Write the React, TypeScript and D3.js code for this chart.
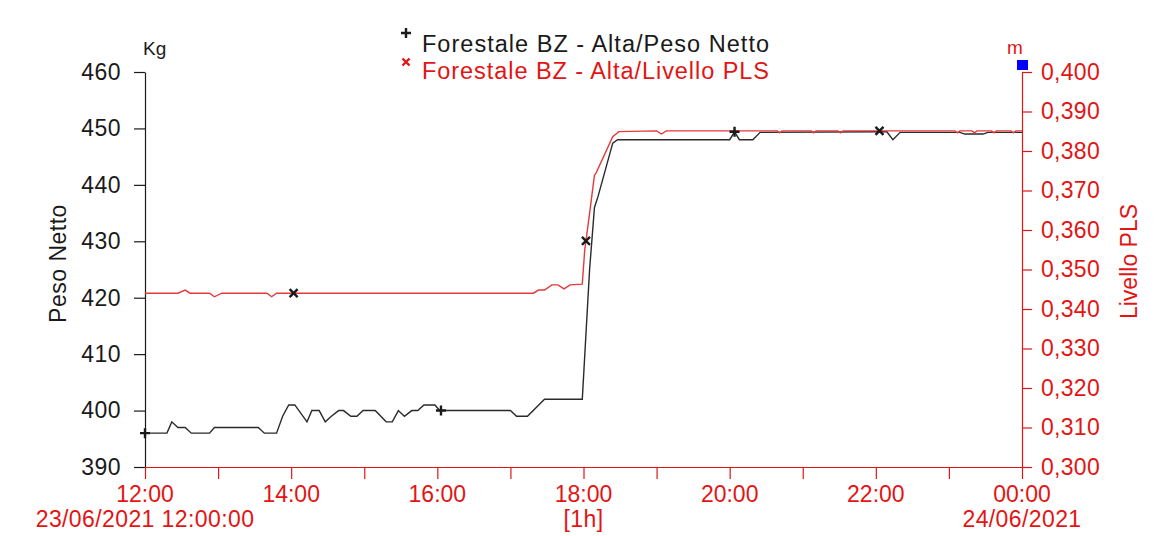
import * as d3 from "d3";
import React, { useEffect, useRef } from "react";

// time axis: 23/06/2021 12:00 -> 24/06/2021 00:00, values keyed by minutes after 12:00
const startTime = new Date(2021, 5, 23, 12, 0, 0);
const endTime = new Date(2021, 5, 24, 0, 0, 0);

// Peso Netto (Kg)
const pesoMinutes = [0, 18, 22, 27, 33, 38, 53, 57, 93, 98, 108, 113, 118, 123, 133, 137, 143, 148, 153, 159, 163, 169, 174, 179, 189, 198, 203, 208, 213, 219, 224, 229, 238, 242, 300, 305, 314, 328, 359, 365, 369, 372, 384, 388, 480, 484, 488, 499, 505, 603, 609, 614, 620, 669, 673, 688, 692, 720];
const pesoValues = [396, 396, 398, 397, 397, 396, 396, 397, 397, 396, 396, 399, 401, 401, 398, 400, 400, 398, 399, 400, 400, 399, 399, 400, 400, 398, 398, 400, 399, 400, 400, 401, 401, 400, 400, 399, 399, 402, 402, 425, 436, 438, 447.4, 448, 448, 449.4, 448, 448, 449.3, 449.4, 449.4, 448, 449.3, 449.3, 449.0, 449.0, 449.3, 449.3];

// Livello PLS (m)
const livelloMinutes = [0, 27, 33, 37, 53, 57, 63, 100, 104, 108, 319, 323, 328, 334, 339, 344, 349, 359, 361, 365, 369, 370, 384, 389, 420, 424, 428, 519, 521, 523, 547, 549, 551, 569, 571, 573, 665, 667, 669, 679, 681, 683, 695, 697, 699, 711, 713, 715, 720];
const livelloValues = [0.344, 0.344, 0.3448, 0.344, 0.344, 0.3431, 0.344, 0.344, 0.3431, 0.344, 0.344, 0.3448, 0.3448, 0.3461, 0.3461, 0.3451, 0.3461, 0.3463, 0.3549, 0.3642, 0.3739, 0.3742, 0.3836, 0.3849, 0.3851, 0.3843, 0.3851, 0.3851, 0.3846, 0.3851, 0.3851, 0.3846, 0.3851, 0.3851, 0.3846, 0.3851, 0.3851, 0.3846, 0.3851, 0.3851, 0.3846, 0.3851, 0.3851, 0.3846, 0.3851, 0.3851, 0.3846, 0.3851, 0.3851];

const pesoMarkerMinutes = [0, 243, 484];
const livelloMarkerMinutes = [122, 362, 603];

const pesoTicks = [390, 400, 410, 420, 430, 440, 450, 460];
const livelloTicks = [0.3, 0.31, 0.32, 0.33, 0.34, 0.35, 0.36, 0.37, 0.38, 0.39, 0.4];
const livelloTickLabels = ["0,300", "0,310", "0,320", "0,330", "0,340", "0,350", "0,360", "0,370", "0,380", "0,390", "0,400"];
const hourLabels = ["12:00", "14:00", "16:00", "18:00", "20:00", "22:00", "00:00"];
const legendLabels = ["Forestale BZ - Alta/Peso Netto", "Forestale BZ - Alta/Livello PLS"];

const RED = "#e31414";
const DARK = "#1a1a1a";
const FONT = "'Liberation Sans', Arial, sans-serif";

export default function App() {
  const svgRef = useRef<SVGSVGElement>(null);
  const boxWidth = 1176;
  const boxHeight = 536;

  useEffect(() => {
    const svg = d3.select(svgRef.current).attr("width", boxWidth).attr("height", boxHeight);
    svg.selectAll("*").remove();

    const margin = { top: 72, right: 154, bottom: 69, left: 145 };
    const width = boxWidth - margin.left - margin.right;
    const height = boxHeight - margin.top - margin.bottom;

    const toDate = (m: number) => new Date(startTime.getTime() + m * 60000);

    const x = d3.scaleTime().domain([startTime, endTime]).range([0, width]);
    const yLeft = d3.scaleLinear().domain([390, 460]).range([height, 0]);
    const yRight = d3.scaleLinear().domain([0.3, 0.4]).range([height, 0]);

    const peso = pesoMinutes.map((m, i) => ({ date: toDate(m), value: pesoValues[i] }));
    const livello = livelloMinutes.map((m, i) => ({ date: toDate(m), value: livelloValues[i] }));

    const g = svg.append("g").attr("transform", `translate(${margin.left},${margin.top})`);

    // left axis (Kg)
    const leftAxis = g.append("g").call(
      d3.axisLeft(yLeft).tickValues(pesoTicks).tickSize(11).tickSizeOuter(0).tickPadding(13).tickFormat((d) => `${d}`)
    );
    leftAxis.select(".domain").attr("stroke", DARK).attr("stroke-width", 1.2);
    leftAxis.selectAll(".tick line").attr("stroke", DARK).attr("stroke-width", 1.2);
    leftAxis.selectAll("text").attr("fill", DARK).attr("font-size", "23px").attr("font-family", FONT).attr("letter-spacing", "0.5px");

    // right axis (m)
    const rightAxis = g.append("g").attr("transform", `translate(${width},0)`).call(
      d3.axisRight(yRight).tickValues(livelloTicks).tickSize(10).tickSizeOuter(0).tickPadding(9)
        .tickFormat((d, i) => livelloTickLabels[i])
    );
    rightAxis.select(".domain").attr("stroke", RED).attr("stroke-width", 1.2);
    rightAxis.selectAll(".tick line").attr("stroke", RED).attr("stroke-width", 1.2);
    rightAxis.selectAll("text").attr("fill", RED).attr("font-size", "23px").attr("font-family", FONT).attr("letter-spacing", "0.3px");

    // bottom axis (hourly ticks)
    const bottomAxis = g.append("g").attr("transform", `translate(0,${height})`).call(
      d3.axisBottom(x).ticks(d3.timeHour.every(1)).tickSize(12).tickSizeOuter(0).tickFormat(() => "")
    );
    bottomAxis.select(".domain").attr("stroke", RED).attr("stroke-width", 1.2);
    bottomAxis.selectAll(".tick line").attr("stroke", RED).attr("stroke-width", 1.2);

    const labelHours = d3.timeHour.every(2)!.range(startTime, d3.timeMinute.offset(endTime, 1));
    g.append("g").selectAll("text")
      .data(labelHours)
      .enter()
      .append("text")
      .attr("x", (d) => x(d))
      .attr("y", height + 35)
      .attr("text-anchor", "middle")
      .attr("fill", RED)
      .attr("font-size", "23px")
      .attr("font-family", FONT)
      .text((d, i) => hourLabels[i]);

    const subLabels = [
      { date: startTime, text: "23/06/2021 12:00:00" },
      { date: d3.timeHour.offset(startTime, 6), text: "[1h]" },
      { date: endTime, text: "24/06/2021" },
    ];
    g.append("g").selectAll("text")
      .data(subLabels)
      .enter()
      .append("text")
      .attr("x", (d) => x(d.date))
      .attr("y", height + 60)
      .attr("text-anchor", "middle")
      .attr("fill", RED)
      .attr("font-size", "23px")
      .attr("font-family", FONT)
      .attr("letter-spacing", "0.4px")
      .text((d) => d.text);

    // series lines
    const linePeso = d3.line<{ date: Date; value: number }>().x((d) => x(d.date)).y((d) => yLeft(d.value));
    const lineLivello = d3.line<{ date: Date; value: number }>().x((d) => x(d.date)).y((d) => yRight(d.value));

    g.append("path").datum(peso).attr("fill", "none").attr("stroke", "#2a2a2a").attr("stroke-width", 1.4).attr("d", linePeso);
    g.append("path").datum(livello).attr("fill", "none").attr("stroke", "#e43a3a").attr("stroke-width", 1.4).attr("d", lineLivello);

    // markers interpolated on the series
    const interp = (data: { date: Date; value: number }[], m: number) => {
      const t = toDate(m);
      const i = d3.bisector((d: { date: Date }) => d.date).left(data, t);
      if (i <= 0) return data[0].value;
      if (i >= data.length) return data[data.length - 1].value;
      const a = data[i - 1], b = data[i];
      const f = (t.getTime() - a.date.getTime()) / (b.date.getTime() - a.date.getTime());
      return a.value + f * (b.value - a.value);
    };
    const s = 5;
    g.append("g").selectAll("path")
      .data(pesoMarkerMinutes)
      .enter()
      .append("path")
      .attr("d", (m) => {
        const cx = x(toDate(m)), cy = yLeft(interp(peso, m));
        return `M${cx - s},${cy}H${cx + s}M${cx},${cy - s}V${cy + s}`;
      })
      .attr("stroke", DARK)
      .attr("stroke-width", 2.4);
    g.append("g").selectAll("path")
      .data(livelloMarkerMinutes)
      .enter()
      .append("path")
      .attr("d", (m) => {
        const cx = x(toDate(m)), cy = yRight(interp(livello, m));
        return `M${cx - 4},${cy - 4}L${cx + 4},${cy + 4}M${cx - 4},${cy + 4}L${cx + 4},${cy - 4}`;
      })
      .attr("stroke", DARK)
      .attr("stroke-width", 2.4);

    // unit labels
    g.append("text").attr("x", -2).attr("y", -17).attr("fill", DARK).attr("font-size", "19px").attr("font-family", FONT).text("Kg");
    g.append("text").attr("x", width - 15).attr("y", -18).attr("fill", RED).attr("font-size", "19px").attr("font-family", FONT).text("m");
    g.append("rect").attr("x", width - 5).attr("y", -12).attr("width", 11).attr("height", 10).attr("fill", "#0000ff");

    // axis titles
    svg.append("text")
      .attr("transform", `translate(66,${margin.top + height / 2 - 6}) rotate(-90)`)
      .attr("text-anchor", "middle")
      .attr("fill", DARK)
      .attr("font-size", "23px")
      .attr("font-family", FONT)
      .attr("letter-spacing", "0.5px")
      .text("Peso Netto");
    svg.append("text")
      .attr("transform", `translate(1137,${margin.top + height / 2 - 8}) rotate(-90)`)
      .attr("text-anchor", "middle")
      .attr("fill", RED)
      .attr("font-size", "23px")
      .attr("font-family", FONT)
      .text("Livello PLS");

    // legend
    const legend = svg.append("g").attr("transform", "translate(406,0)");
    legend.append("path").attr("d", "M-5,33H5M0,28V38").attr("stroke", DARK).attr("stroke-width", 2.4);
    legend.append("path").attr("d", "M-3.5,58.5L3.5,65.5M-3.5,65.5L3.5,58.5").attr("stroke", RED).attr("stroke-width", 2.4);
    legend.selectAll("text.leg")
      .data(legendLabels)
      .enter()
      .append("text")
      .attr("class", "leg")
      .attr("x", 16)
      .attr("y", (d, i) => 52 + i * 27)
      .attr("fill", (d, i) => (i === 0 ? DARK : RED))
      .attr("font-size", "23.5px")
      .attr("font-family", FONT)
      .attr("textLength", 347)
      .attr("lengthAdjust", "spacing")
      .text((d) => d);
  }, []);

  return (
    <div style={{ position: "absolute", left: 0, top: 0, background: "#fff" }}>
      <svg ref={svgRef}></svg>
    </div>
  );
}
